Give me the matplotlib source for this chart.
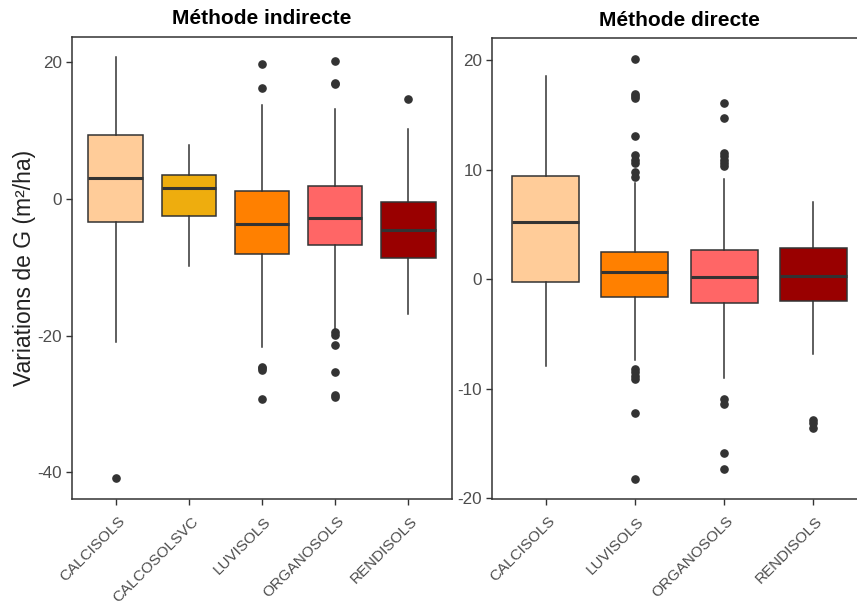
import numpy as np
import matplotlib.pyplot as plt
from matplotlib.transforms import ScaledTranslation

plt.rcParams['font.family'] = ['Liberation Sans', 'DejaVu Sans']
plt.rcParams['axes.unicode_minus'] = False

# --- data ---
cats_ind = ['CALCISOLS', 'CALCOSOLSVC', 'LUVISOLS', 'ORGANOSOLS', 'RENDISOLS']
colors_ind = ['#FFCC99', '#EEAD0E', '#FF8000', '#FF6666', '#990000']
q1_ind = [-3.3, -2.5, -8.1, -6.7, -8.7]
med_ind = [3.0, 1.6, -3.6, -2.8, -4.6]
q3_ind = [9.4, 3.5, 1.2, 1.9, -0.4]
wlo_ind = [-21.0, -9.8, -21.6, -19.2, -16.9]
whi_ind = [20.8, 7.9, 13.8, 13.2, 10.2]
out_ind = [
    [-40.9],
    [],
    [19.7, 16.2, -24.6, -24.8, -25.0, -29.3],
    [20.2, 17.0, 16.8, -19.5, -19.9, -21.4, -25.3, -28.7, -29.0],
    [14.6],
]

cats_dir = ['CALCISOLS', 'LUVISOLS', 'ORGANOSOLS', 'RENDISOLS']
colors_dir = ['#FFCC99', '#FF8000', '#FF6666', '#990000']
q1_dir = [-0.3, -1.6, -2.2, -1.95]
med_dir = [5.2, 0.7, 0.2, 0.3]
q3_dir = [9.45, 2.5, 2.7, 2.8]
wlo_dir = [-7.9, -7.4, -9.0, -6.8]
whi_dir = [18.5, 8.8, 9.1, 7.05]
out_dir = [
    [],
    [20.1, 16.9, 16.7, 16.5, 13.1, 11.3, 10.9, 10.6, 9.8, 9.3,
     -8.2, -8.5, -8.8, -9.1, -12.2, -18.2],
    [16.1, 14.7, 11.5, 11.2, 10.9, 10.6, 10.3, -10.9, -11.4, -15.9, -17.3],
    [-12.8, -13.1, -13.6],
]

edge = '#333333'


def draw_panel(fig, ax, cats, colors, q1, med, q3, wlo, whi, outs, title, yticks, ylim):
    stats = []
    for i in range(len(cats)):
        stats.append(dict(med=med[i], q1=q1[i], q3=q3[i], whislo=wlo[i],
                          whishi=whi[i], fliers=outs[i], label=cats[i]))
    pos = np.arange(1, len(cats) + 1)
    bp = ax.bxp(stats, positions=pos, widths=0.75, patch_artist=True,
                showcaps=False,
                boxprops=dict(edgecolor=edge, linewidth=1.1),
                medianprops=dict(color=edge, linewidth=2.2),
                whiskerprops=dict(color=edge, linewidth=1.1),
                flierprops=dict(marker='o', markerfacecolor=edge,
                                markeredgecolor=edge, markersize=5.2))
    for patch, c in zip(bp['boxes'], colors):
        patch.set_facecolor(c)
    ax.set_xlim(0.4, len(cats) + 0.6)
    ax.set_ylim(*ylim)
    ax.set_yticks(yticks)
    ax.set_xticks(pos)
    ax.set_xticklabels(cats, rotation=45, ha='right', va='center',
                       rotation_mode='anchor')
    ax.tick_params(axis='both', colors=edge, length=4, width=1.0,
                   labelcolor='#4D4D4D')
    ax.tick_params(axis='y', pad=3, labelsize=12.3)
    ax.tick_params(axis='x', pad=10.5, labelsize=11)
    # shift x labels a little to the right, like ggplot's hjust/vjust
    shift = ScaledTranslation(7 / 100, 0, fig.dpi_scale_trans)
    for lab in ax.get_xticklabels():
        lab.set_transform(lab.get_transform() + shift)
    for s in ax.spines.values():
        s.set_color(edge)
        s.set_linewidth(1.1)
    ax.set_title(title, fontweight='bold', fontsize=15, pad=9)


fig = plt.figure(figsize=(8.57, 6.08), dpi=100)
ax1 = fig.add_axes([0.0840, 0.1793, 0.4434, 0.7599])
ax2 = fig.add_axes([0.5741, 0.1793, 0.4376, 0.7582])

draw_panel(fig, ax1, cats_ind, colors_ind, q1_ind, med_ind, q3_ind, wlo_ind, whi_ind,
           out_ind, 'Méthode indirecte', [20, 0, -20, -40], (-43.9, 23.7))
draw_panel(fig, ax2, cats_dir, colors_dir, q1_dir, med_dir, q3_dir, wlo_dir, whi_dir,
           out_dir, 'Méthode directe', [20, 10, 0, -10, -20], (-20.05, 22.0))

ax1.set_ylabel('Variations de G (m²/ha)', fontsize=16.5, color='#222222', labelpad=1)

fig.savefig('out.png', dpi=100)
